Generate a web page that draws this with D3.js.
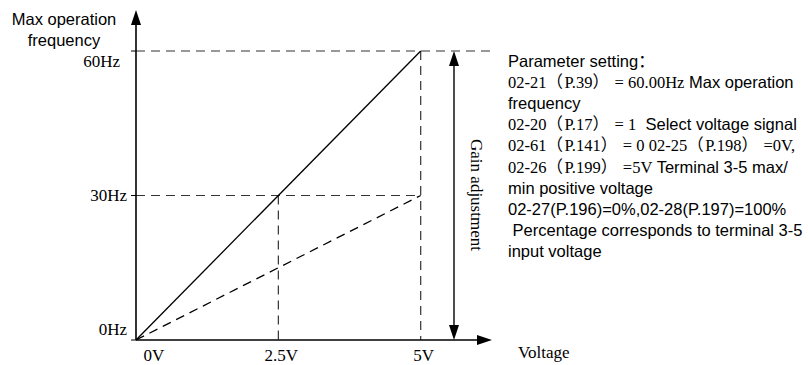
<!DOCTYPE html>
<html>
<head>
<meta charset="utf-8">
<script src="https://cdn.jsdelivr.net/npm/d3@7"></script>
<style>
body { margin:0; background:#fff; }
.serif { font-family:"Liberation Serif","Noto Sans CJK SC",serif; }
.sans { font-family:"Liberation Sans","Noto Sans CJK SC",sans-serif; }
.paren { font-family:"Noto Sans CJK SC",serif; letter-spacing:1.5px; }
</style>
</head>
<body>
<svg id="graph"></svg>
<script>
//chart data
var voltTicks = [0, 2.5, 5]
var voltLabels = ['0V', '2.5V', '5V']
var freqTicks = [0, 30, 60]
var freqLabels = ['0Hz', '30Hz', '60Hz']
var solidLine = [[0, 0], [5, 60]]   //gain 100%
var dashLine = [[0, 0], [5, 30]]    //gain 50%

//text block on the right, each line split in serif / sans pieces
var paramLines = [
	[['sans', 'Parameter setting：']],
	[['serif', '02-21（P.39） = 60.00Hz'], ['sans', ' Max operation']],
	[['sans', 'frequency']],
	[['serif', '02-20（P.17） = 1'], ['sans', '  Select voltage signal']],
	[['serif', '02-61（P.141） = 0 02-25（P.198） =0V,']],
	[['serif', '02-26（P.199） =5V'], ['sans', ' Terminal 3-5 max/']],
	[['sans', 'min positive voltage']],
	[['sans', '02-27(P.196)=0%,02-28(P.197)=100%']],
	[['sans', ' Percentage corresponds to terminal 3-5']],
	[['sans', 'input voltage']]
]

var svg = d3.select('#graph')
	.attr('width', 808)
	.attr('height', 365)

var fs = 16.5

//scales
var x = d3.scaleLinear().domain([0, 5]).range([136, 420.7])
var y = d3.scaleLinear().domain([0, 60]).range([340, 51])

var dash = '9,6'

//arrow heads
function arrowHead(px, py, dir) {
	var l = 15, w = 5
	var pts
	if (dir == 'up') pts = [[px, py], [px - w, py + l], [px + w, py + l]]
	if (dir == 'down') pts = [[px, py], [px - w, py - l], [px + w, py - l]]
	if (dir == 'right') pts = [[px, py], [px - l, py - w], [px - l, py + w]]
	svg.append('path')
		.attr('d', 'M' + pts.join('L') + 'Z')
		.attr('fill', '#000')
}

//guide lines (dashed)
var gl = svg.append('g')
	.attr('stroke', '#333')
	.attr('stroke-width', 1.2)
	.attr('stroke-dasharray', dash)
	.attr('fill', 'none')

//60Hz horizontal runs past the plot
gl.append('line')
	.attr('x1', x(0)).attr('x2', 490)
	.attr('y1', y(60)).attr('y2', y(60))
gl.append('line')
	.attr('x1', x(0)).attr('x2', x(5))
	.attr('y1', y(30)).attr('y2', y(30))
gl.append('line')
	.attr('x1', x(2.5)).attr('x2', x(2.5))
	.attr('y1', y(30)).attr('y2', y(0))
gl.append('line')
	.attr('x1', x(5)).attr('x2', x(5))
	.attr('y1', y(60)).attr('y2', y(0))

//characteristic lines
var line = d3.line()
	.x(function(d) { return x(d[0]) })
	.y(function(d) { return y(d[1]) })

svg.append('path')
	.attr('d', line(solidLine))
	.attr('fill', 'none')
	.attr('stroke', '#000')
	.attr('stroke-width', 1.3)

svg.append('path')
	.attr('d', line(dashLine))
	.attr('fill', 'none')
	.attr('stroke', '#000')
	.attr('stroke-width', 1.3)
	.attr('stroke-dasharray', dash)

//axes
svg.append('line')
	.attr('x1', x(0)).attr('x2', x(0))
	.attr('y1', y(0)).attr('y2', 20)
	.attr('stroke', '#000').attr('stroke-width', 1.6)
arrowHead(x(0), 10, 'up')

svg.append('line')
	.attr('x1', x(0)).attr('x2', 482)
	.attr('y1', y(0)).attr('y2', y(0))
	.attr('stroke', '#000').attr('stroke-width', 1.6)
arrowHead(492, y(0), 'right')

//small ticks on y axis
svg.selectAll('.ytick')
	.data(freqTicks)
	.enter()
	.append('line')
	.attr('class', 'ytick')
	.attr('x1', x(0) - 5).attr('x2', x(0))
	.attr('y1', function(d) { return y(d) })
	.attr('y2', function(d) { return y(d) })
	.attr('stroke', '#000')

//gain adjustment double arrow
svg.append('line')
	.attr('x1', 454).attr('x2', 454)
	.attr('y1', y(60) + 10).attr('y2', y(0) - 10)
	.attr('stroke', '#000').attr('stroke-width', 1.4)
arrowHead(454, y(60), 'up')
arrowHead(454, y(0), 'down')

svg.append('text')
	.attr('class', 'serif')
	.attr('transform', 'translate(471,195) rotate(90)')
	.attr('text-anchor', 'middle')
	.attr('font-size', 17)
	.text('Gain adjustment')

//tick labels
var yNudge = { '0Hz': -5, '30Hz': 5.5, '60Hz': 16 }
var yRight = { '0Hz': 127, '30Hz': 127, '60Hz': 120 }
svg.selectAll('.ylab')
	.data(freqTicks)
	.enter()
	.append('text')
	.attr('class', 'serif ylab')
	.attr('text-anchor', 'end')
	.attr('font-size', 17)
	.attr('x', function(d, i) { return yRight[freqLabels[i]] })
	.attr('y', function(d, i) { return y(d) + yNudge[freqLabels[i]] })
	.text(function(d, i) { return freqLabels[i] })

var xNudge = { '0V': 18, '2.5V': 3, '5V': 3 }
svg.selectAll('.xlab')
	.data(voltTicks)
	.enter()
	.append('text')
	.attr('class', 'serif xlab')
	.attr('text-anchor', 'middle')
	.attr('font-size', 17)
	.attr('x', function(d, i) { return x(d) + xNudge[voltLabels[i]] })
	.attr('y', 361)
	.text(function(d, i) { return voltLabels[i] })

//axis titles
svg.append('text')
	.attr('class', 'serif')
	.attr('x', 518).attr('y', 358)
	.attr('font-size', 17)
	.text('Voltage')

var yt = svg.append('text')
	.attr('class', 'sans')
	.attr('text-anchor', 'middle')
	.attr('font-size', fs)
yt.append('tspan').attr('x', 64).attr('y', 25).text('Max operation')
yt.append('tspan').attr('x', 64).attr('y', 46).text('frequency')

//parameter notes, one text per line
var notes = svg.append('g')
notes.selectAll('text')
	.data(paramLines)
	.enter()
	.append('text')
	.attr('x', 508)
	.attr('y', function(d, i) { return 67 + i * 21.1 })
	.attr('font-size', fs)
	.style('white-space', 'pre')
	.each(function(d) {
		var t = d3.select(this)
		d.forEach(function(p) {
			//full width brackets get a bit of extra room, like the original
			p[1].split(/([（）])/).forEach(function(s) {
				if (!s) return
				var isParen = (s == '（' || s == '）')
				t.append('tspan')
					.attr('class', isParen ? 'paren' : p[0])
					.text(s)
			})
		})
	})
</script>
</body>
</html>
